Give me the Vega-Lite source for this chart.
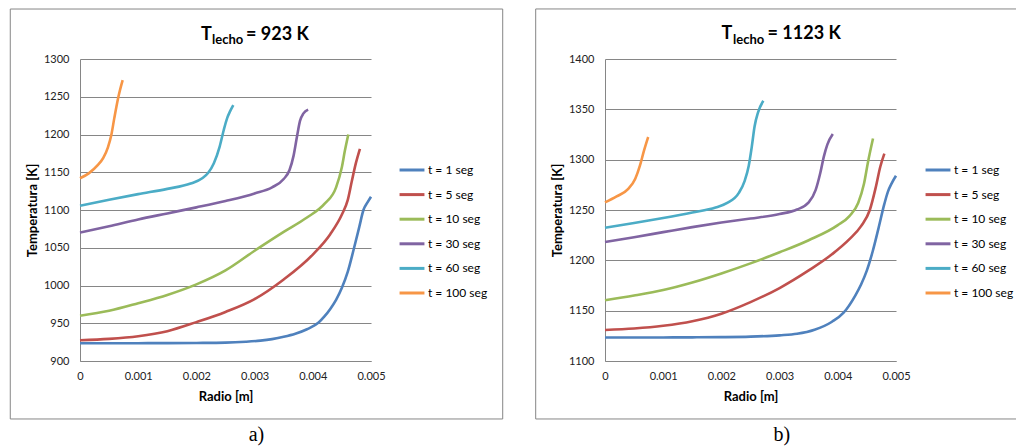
{
  "$schema": "https://vega.github.io/schema/vega-lite/v6.json",
  "padding": {"left": 9, "top": 8, "right": 0, "bottom": 4},
  "background": "white",
  "config": {
    "font": "Lato",
    "view": {"stroke": null},
    "concat": {"spacing": 31},
    "axis": {"labelFont": "Lato", "labelFontSize": 11, "labelColor": "#222", "ticks": false, "domainColor": "#868686", "gridColor": "#868686", "titleFont": "Lato", "titleFontSize": 13, "titleFontWeight": "bold", "titleColor": "#000", "labelFlush": false, "labelOverlap": false},
    "axisX": {"grid": false, "labelPadding": 9, "titlePadding": 9},
    "axisY": {"grid": true, "labelPadding": 11, "titlePadding": 4}
  },
  "datasets": {
    "a": [
      {"t": "t = 1 seg", "r": 0, "T": 923.5}, {"t": "t = 1 seg", "r": 0.0005, "T": 923.5}, {"t": "t = 1 seg", "r": 0.001, "T": 923.6}, {"t": "t = 1 seg", "r": 0.0015, "T": 923.7}, {"t": "t = 1 seg", "r": 0.002, "T": 923.9}, {"t": "t = 1 seg", "r": 0.0025, "T": 924.3}, {"t": "t = 1 seg", "r": 0.00285, "T": 925.5}, {"t": "t = 1 seg", "r": 0.0031, "T": 927}, {"t": "t = 1 seg", "r": 0.0033, "T": 929}, {"t": "t = 1 seg", "r": 0.0035, "T": 932}, {"t": "t = 1 seg", "r": 0.0037, "T": 936}, {"t": "t = 1 seg", "r": 0.0039, "T": 942}, {"t": "t = 1 seg", "r": 0.0041, "T": 951}, {"t": "t = 1 seg", "r": 0.0042, "T": 959}, {"t": "t = 1 seg", "r": 0.0043, "T": 969}, {"t": "t = 1 seg", "r": 0.0044, "T": 981}, {"t": "t = 1 seg", "r": 0.0045, "T": 997}, {"t": "t = 1 seg", "r": 0.0046, "T": 1018}, {"t": "t = 1 seg", "r": 0.0047, "T": 1047}, {"t": "t = 1 seg", "r": 0.0048, "T": 1078}, {"t": "t = 1 seg", "r": 0.00487, "T": 1100}, {"t": "t = 1 seg", "r": 0.00494, "T": 1110}, {"t": "t = 1 seg", "r": 0.005, "T": 1117.5},
      {"t": "t = 5 seg", "r": 0, "T": 927.5}, {"t": "t = 5 seg", "r": 0.0005, "T": 929.3}, {"t": "t = 5 seg", "r": 0.001, "T": 932.8}, {"t": "t = 5 seg", "r": 0.0015, "T": 939.5}, {"t": "t = 5 seg", "r": 0.002, "T": 951.5}, {"t": "t = 5 seg", "r": 0.0025, "T": 965}, {"t": "t = 5 seg", "r": 0.003, "T": 982}, {"t": "t = 5 seg", "r": 0.0035, "T": 1008}, {"t": "t = 5 seg", "r": 0.004, "T": 1041}, {"t": "t = 5 seg", "r": 0.0043, "T": 1068}, {"t": "t = 5 seg", "r": 0.0045, "T": 1094}, {"t": "t = 5 seg", "r": 0.0046, "T": 1113}, {"t": "t = 5 seg", "r": 0.00467, "T": 1138}, {"t": "t = 5 seg", "r": 0.00474, "T": 1162}, {"t": "t = 5 seg", "r": 0.00481, "T": 1181},
      {"t": "t = 10 seg", "r": 0, "T": 960}, {"t": "t = 10 seg", "r": 0.0005, "T": 966.5}, {"t": "t = 10 seg", "r": 0.001, "T": 976.5}, {"t": "t = 10 seg", "r": 0.0015, "T": 987.5}, {"t": "t = 10 seg", "r": 0.002, "T": 1001.5}, {"t": "t = 10 seg", "r": 0.0025, "T": 1020}, {"t": "t = 10 seg", "r": 0.003, "T": 1046}, {"t": "t = 10 seg", "r": 0.0035, "T": 1071}, {"t": "t = 10 seg", "r": 0.0039, "T": 1090}, {"t": "t = 10 seg", "r": 0.0042, "T": 1108}, {"t": "t = 10 seg", "r": 0.0044, "T": 1130}, {"t": "t = 10 seg", "r": 0.0045, "T": 1157}, {"t": "t = 10 seg", "r": 0.00455, "T": 1178}, {"t": "t = 10 seg", "r": 0.00461, "T": 1200},
      {"t": "t = 30 seg", "r": 0, "T": 1070}, {"t": "t = 30 seg", "r": 0.0005, "T": 1078.5}, {"t": "t = 30 seg", "r": 0.001, "T": 1087.5}, {"t": "t = 30 seg", "r": 0.0015, "T": 1095.5}, {"t": "t = 30 seg", "r": 0.002, "T": 1103.5}, {"t": "t = 30 seg", "r": 0.0025, "T": 1112}, {"t": "t = 30 seg", "r": 0.003, "T": 1122}, {"t": "t = 30 seg", "r": 0.0033, "T": 1130}, {"t": "t = 30 seg", "r": 0.0035, "T": 1141}, {"t": "t = 30 seg", "r": 0.0036, "T": 1153}, {"t": "t = 30 seg", "r": 0.00367, "T": 1172}, {"t": "t = 30 seg", "r": 0.00373, "T": 1198}, {"t": "t = 30 seg", "r": 0.00378, "T": 1218}, {"t": "t = 30 seg", "r": 0.00384, "T": 1228}, {"t": "t = 30 seg", "r": 0.00392, "T": 1233},
      {"t": "t = 60 seg", "r": 0, "T": 1105.5}, {"t": "t = 60 seg", "r": 0.0005, "T": 1113.5}, {"t": "t = 60 seg", "r": 0.001, "T": 1121}, {"t": "t = 60 seg", "r": 0.0015, "T": 1128}, {"t": "t = 60 seg", "r": 0.0019, "T": 1135}, {"t": "t = 60 seg", "r": 0.0021, "T": 1142}, {"t": "t = 60 seg", "r": 0.0022, "T": 1149}, {"t": "t = 60 seg", "r": 0.0023, "T": 1162}, {"t": "t = 60 seg", "r": 0.0024, "T": 1184}, {"t": "t = 60 seg", "r": 0.00247, "T": 1206}, {"t": "t = 60 seg", "r": 0.00253, "T": 1222}, {"t": "t = 60 seg", "r": 0.00258, "T": 1231}, {"t": "t = 60 seg", "r": 0.002634, "T": 1239},
      {"t": "t = 100 seg", "r": 0, "T": 1142}, {"t": "t = 100 seg", "r": 0.00015, "T": 1148.5}, {"t": "t = 100 seg", "r": 0.0003, "T": 1159}, {"t": "t = 100 seg", "r": 0.0004, "T": 1169}, {"t": "t = 100 seg", "r": 0.00048, "T": 1183}, {"t": "t = 100 seg", "r": 0.00054, "T": 1200}, {"t": "t = 100 seg", "r": 0.00059, "T": 1222}, {"t": "t = 100 seg", "r": 0.00066, "T": 1250}, {"t": "t = 100 seg", "r": 0.000733, "T": 1272}
    ],
    "b": [
      {"t": "t = 1 seg", "r": 0, "T": 1123.3}, {"t": "t = 1 seg", "r": 0.0005, "T": 1123.3}, {"t": "t = 1 seg", "r": 0.001, "T": 1123.4}, {"t": "t = 1 seg", "r": 0.0015, "T": 1123.5}, {"t": "t = 1 seg", "r": 0.002, "T": 1123.7}, {"t": "t = 1 seg", "r": 0.0025, "T": 1124.2}, {"t": "t = 1 seg", "r": 0.003, "T": 1125.5}, {"t": "t = 1 seg", "r": 0.0033, "T": 1127}, {"t": "t = 1 seg", "r": 0.0036, "T": 1131}, {"t": "t = 1 seg", "r": 0.0039, "T": 1139}, {"t": "t = 1 seg", "r": 0.0041, "T": 1148}, {"t": "t = 1 seg", "r": 0.0043, "T": 1165}, {"t": "t = 1 seg", "r": 0.0044, "T": 1176}, {"t": "t = 1 seg", "r": 0.0045, "T": 1190}, {"t": "t = 1 seg", "r": 0.0046, "T": 1209}, {"t": "t = 1 seg", "r": 0.0047, "T": 1232}, {"t": "t = 1 seg", "r": 0.0048, "T": 1256}, {"t": "t = 1 seg", "r": 0.00486, "T": 1268}, {"t": "t = 1 seg", "r": 0.00493, "T": 1277}, {"t": "t = 1 seg", "r": 0.005, "T": 1284},
      {"t": "t = 5 seg", "r": 0, "T": 1130.8}, {"t": "t = 5 seg", "r": 0.0005, "T": 1132.3}, {"t": "t = 5 seg", "r": 0.001, "T": 1135}, {"t": "t = 5 seg", "r": 0.0015, "T": 1139.5}, {"t": "t = 5 seg", "r": 0.002, "T": 1147}, {"t": "t = 5 seg", "r": 0.0025, "T": 1158.5}, {"t": "t = 5 seg", "r": 0.003, "T": 1172.5}, {"t": "t = 5 seg", "r": 0.0035, "T": 1190}, {"t": "t = 5 seg", "r": 0.0039, "T": 1206}, {"t": "t = 5 seg", "r": 0.0042, "T": 1221}, {"t": "t = 5 seg", "r": 0.0044, "T": 1234}, {"t": "t = 5 seg", "r": 0.00455, "T": 1250}, {"t": "t = 5 seg", "r": 0.00465, "T": 1272}, {"t": "t = 5 seg", "r": 0.00473, "T": 1293}, {"t": "t = 5 seg", "r": 0.0048, "T": 1306},
      {"t": "t = 10 seg", "r": 0, "T": 1160.3}, {"t": "t = 10 seg", "r": 0.0005, "T": 1165}, {"t": "t = 10 seg", "r": 0.001, "T": 1170.5}, {"t": "t = 10 seg", "r": 0.0015, "T": 1178}, {"t": "t = 10 seg", "r": 0.002, "T": 1187}, {"t": "t = 10 seg", "r": 0.0025, "T": 1197}, {"t": "t = 10 seg", "r": 0.003, "T": 1208}, {"t": "t = 10 seg", "r": 0.0035, "T": 1220}, {"t": "t = 10 seg", "r": 0.004, "T": 1235}, {"t": "t = 10 seg", "r": 0.0042, "T": 1244}, {"t": "t = 10 seg", "r": 0.00435, "T": 1257}, {"t": "t = 10 seg", "r": 0.00445, "T": 1276}, {"t": "t = 10 seg", "r": 0.00452, "T": 1298}, {"t": "t = 10 seg", "r": 0.004605, "T": 1321},
      {"t": "t = 30 seg", "r": 0, "T": 1218.2}, {"t": "t = 30 seg", "r": 0.0005, "T": 1223}, {"t": "t = 30 seg", "r": 0.001, "T": 1228}, {"t": "t = 30 seg", "r": 0.0015, "T": 1233}, {"t": "t = 30 seg", "r": 0.002, "T": 1237.5}, {"t": "t = 30 seg", "r": 0.0025, "T": 1241.5}, {"t": "t = 30 seg", "r": 0.003, "T": 1246}, {"t": "t = 30 seg", "r": 0.0033, "T": 1250.5}, {"t": "t = 30 seg", "r": 0.0035, "T": 1257.5}, {"t": "t = 30 seg", "r": 0.00362, "T": 1270}, {"t": "t = 30 seg", "r": 0.0037, "T": 1287}, {"t": "t = 30 seg", "r": 0.00376, "T": 1303}, {"t": "t = 30 seg", "r": 0.00382, "T": 1315}, {"t": "t = 30 seg", "r": 0.003914, "T": 1325.5},
      {"t": "t = 60 seg", "r": 0, "T": 1232.4}, {"t": "t = 60 seg", "r": 0.0005, "T": 1237}, {"t": "t = 60 seg", "r": 0.001, "T": 1242}, {"t": "t = 60 seg", "r": 0.0015, "T": 1247.5}, {"t": "t = 60 seg", "r": 0.0019, "T": 1252.5}, {"t": "t = 60 seg", "r": 0.0021, "T": 1257}, {"t": "t = 60 seg", "r": 0.0023, "T": 1267}, {"t": "t = 60 seg", "r": 0.0024, "T": 1279}, {"t": "t = 60 seg", "r": 0.00247, "T": 1294}, {"t": "t = 60 seg", "r": 0.00252, "T": 1312}, {"t": "t = 60 seg", "r": 0.00257, "T": 1333}, {"t": "t = 60 seg", "r": 0.00263, "T": 1347}, {"t": "t = 60 seg", "r": 0.00272, "T": 1358.5},
      {"t": "t = 100 seg", "r": 0, "T": 1257.5}, {"t": "t = 100 seg", "r": 0.0002, "T": 1263.5}, {"t": "t = 100 seg", "r": 0.0004, "T": 1271}, {"t": "t = 100 seg", "r": 0.00052, "T": 1281}, {"t": "t = 100 seg", "r": 0.0006, "T": 1294}, {"t": "t = 100 seg", "r": 0.00067, "T": 1309}, {"t": "t = 100 seg", "r": 0.000742, "T": 1322.5}
    ]
  },
  "hconcat": [
    {
      "width": 291, "height": 302,
      "title": {"text": "a)", "orient": "bottom", "frame": "bounds", "anchor": "middle", "font": "Liberation Serif", "fontSize": 20, "fontWeight": "normal", "color": "#000", "offset": 6},
      "layer": [
        {
          "data": {"name": "a"},
          "mark": {"type": "line", "strokeWidth": 2.6, "interpolate": "monotone"},
          "encoding": {
            "x": {"field": "r", "type": "quantitative", "scale": {"domain": [0, 0.005], "nice": false},
              "axis": {"title": "Radio [m]", "values": [0, 0.001, 0.002, 0.003, 0.004, 0.005], "format": "~g"}},
            "y": {"field": "T", "type": "quantitative", "scale": {"domain": [900, 1300], "nice": false},
              "axis": {"title": "Temperatura [K]", "values": [900, 950, 1000, 1050, 1100, 1150, 1200, 1250, 1300], "format": "d"}},
            "color": {"field": "t", "type": "nominal",
              "scale": {"domain": ["t = 1 seg", "t = 5 seg", "t = 10 seg", "t = 30 seg", "t = 60 seg", "t = 100 seg"], "range": ["#4F81BD", "#C0504D", "#9BBB59", "#8064A2", "#4BACC6", "#F79646"]},
              "legend": {"title": null, "orient": "none", "legendX": 318, "legendY": 97, "symbolType": "stroke", "symbolSize": 620, "symbolStrokeWidth": 3, "labelFontSize": 12, "labelOffset": 2, "labelColor": "#000", "rowPadding": 4.6, "padding": 0}}
          }
        },
        {
          "data": {"values": [{}]},
          "mark": {"type": "rect", "fillOpacity": 0, "stroke": "#868686", "strokeWidth": 1},
          "encoding": {
            "x": {"datum": -0.001198, "type": "quantitative", "axis": {"title": "Radio [m]", "values": [0, 0.001, 0.002, 0.003, 0.004, 0.005], "format": "~g"}},
            "x2": {"datum": 0.007263},
            "y": {"datum": 823.2, "type": "quantitative", "axis": {"title": "Temperatura [K]", "values": [900, 950, 1000, 1050, 1100, 1150, 1200, 1250, 1300], "format": "d"}},
            "y2": {"datum": 1366.2}
          }
        },
        {
          "data": {"values": [{}]},
          "mark": {"type": "text", "text": "T", "font": "Lato", "fontWeight": "bold", "fontSize": 18, "align": "left", "baseline": "alphabetic", "color": "#000"},
          "encoding": {
            "x": {"datum": 0.002079, "type": "quantitative", "axis": {"title": "Radio [m]", "values": [0, 0.001, 0.002, 0.003, 0.004, 0.005], "format": "~g"}},
            "y": {"datum": 1325.8, "type": "quantitative", "axis": {"title": "Temperatura [K]", "values": [900, 950, 1000, 1050, 1100, 1150, 1200, 1250, 1300], "format": "d"}}
          }
        },
        {
          "data": {"values": [{}]},
          "mark": {"type": "text", "text": "lecho", "font": "Lato", "fontWeight": "bold", "fontSize": 13, "align": "left", "baseline": "alphabetic", "color": "#000"},
          "encoding": {
            "x": {"datum": 0.002268, "type": "quantitative", "axis": {"title": "Radio [m]", "values": [0, 0.001, 0.002, 0.003, 0.004, 0.005], "format": "~g"}},
            "y": {"datum": 1319.9, "type": "quantitative", "axis": {"title": "Temperatura [K]", "values": [900, 950, 1000, 1050, 1100, 1150, 1200, 1250, 1300], "format": "d"}}
          }
        },
        {
          "data": {"values": [{}]},
          "mark": {"type": "text", "text": "= 923 K", "font": "Lato", "fontWeight": "bold", "fontSize": 18, "align": "left", "baseline": "alphabetic", "color": "#000"},
          "encoding": {
            "x": {"datum": 0.002852, "type": "quantitative", "axis": {"title": "Radio [m]", "values": [0, 0.001, 0.002, 0.003, 0.004, 0.005], "format": "~g"}},
            "y": {"datum": 1325.8, "type": "quantitative", "axis": {"title": "Temperatura [K]", "values": [900, 950, 1000, 1050, 1100, 1150, 1200, 1250, 1300], "format": "d"}}
          }
        }
      ]
    },
    {
      "width": 291, "height": 302,
      "title": {"text": "b)", "orient": "bottom", "frame": "bounds", "anchor": "middle", "font": "Liberation Serif", "fontSize": 20, "fontWeight": "normal", "color": "#000", "offset": 6},
      "layer": [
        {
          "data": {"name": "b"},
          "mark": {"type": "line", "strokeWidth": 2.6, "interpolate": "monotone"},
          "encoding": {
            "x": {"field": "r", "type": "quantitative", "scale": {"domain": [0, 0.005], "nice": false},
              "axis": {"title": "Radio [m]", "values": [0, 0.001, 0.002, 0.003, 0.004, 0.005], "format": "~g"}},
            "y": {"field": "T", "type": "quantitative", "scale": {"domain": [1100, 1400], "nice": false},
              "axis": {"title": "Temperatura [K]", "values": [1100, 1150, 1200, 1250, 1300, 1350, 1400], "format": "d"}},
            "color": {"field": "t", "type": "nominal",
              "scale": {"domain": ["t = 1 seg", "t = 5 seg", "t = 10 seg", "t = 30 seg", "t = 60 seg", "t = 100 seg"], "range": ["#4F81BD", "#C0504D", "#9BBB59", "#8064A2", "#4BACC6", "#F79646"]},
              "legend": {"title": null, "orient": "none", "legendX": 319, "legendY": 97, "symbolType": "stroke", "symbolSize": 620, "symbolStrokeWidth": 3, "labelFontSize": 12, "labelOffset": 2, "labelColor": "#000", "rowPadding": 4.6, "padding": 0}}
          }
        },
        {
          "data": {"values": [{}]},
          "mark": {"type": "rect", "fillOpacity": 0, "stroke": "#868686", "strokeWidth": 1},
          "encoding": {
            "x": {"datum": -0.0011907, "type": "quantitative", "axis": {"title": "Radio [m]", "values": [0, 0.001, 0.002, 0.003, 0.004, 0.005], "format": "~g"}},
            "x2": {"datum": 0.007268},
            "y": {"datum": 1042.4, "type": "quantitative", "axis": {"title": "Temperatura [K]", "values": [1100, 1150, 1200, 1250, 1300, 1350, 1400], "format": "d"}},
            "y2": {"datum": 1449.7}
          }
        },
        {
          "data": {"values": [{}]},
          "mark": {"type": "text", "text": "T", "font": "Lato", "fontWeight": "bold", "fontSize": 18, "align": "left", "baseline": "alphabetic", "color": "#000"},
          "encoding": {
            "x": {"datum": 0.0020017, "type": "quantitative", "axis": {"title": "Radio [m]", "values": [0, 0.001, 0.002, 0.003, 0.004, 0.005], "format": "~g"}},
            "y": {"datum": 1419.4, "type": "quantitative", "axis": {"title": "Temperatura [K]", "values": [1100, 1150, 1200, 1250, 1300, 1350, 1400], "format": "d"}}
          }
        },
        {
          "data": {"values": [{}]},
          "mark": {"type": "text", "text": "lecho", "font": "Lato", "fontWeight": "bold", "fontSize": 13, "align": "left", "baseline": "alphabetic", "color": "#000"},
          "encoding": {
            "x": {"datum": 0.0021993, "type": "quantitative", "axis": {"title": "Radio [m]", "values": [0, 0.001, 0.002, 0.003, 0.004, 0.005], "format": "~g"}},
            "y": {"datum": 1414.9, "type": "quantitative", "axis": {"title": "Temperatura [K]", "values": [1100, 1150, 1200, 1250, 1300, 1350, 1400], "format": "d"}}
          }
        },
        {
          "data": {"values": [{}]},
          "mark": {"type": "text", "text": "= 1123 K", "font": "Lato", "fontWeight": "bold", "fontSize": 18, "align": "left", "baseline": "alphabetic", "color": "#000"},
          "encoding": {
            "x": {"datum": 0.0027921, "type": "quantitative", "axis": {"title": "Radio [m]", "values": [0, 0.001, 0.002, 0.003, 0.004, 0.005], "format": "~g"}},
            "y": {"datum": 1419.4, "type": "quantitative", "axis": {"title": "Temperatura [K]", "values": [1100, 1150, 1200, 1250, 1300, 1350, 1400], "format": "d"}}
          }
        }
      ]
    }
  ],
  "resolve": {"scale": {"x": "independent", "y": "independent", "color": "independent"}, "legend": {"color": "independent"}}
}
